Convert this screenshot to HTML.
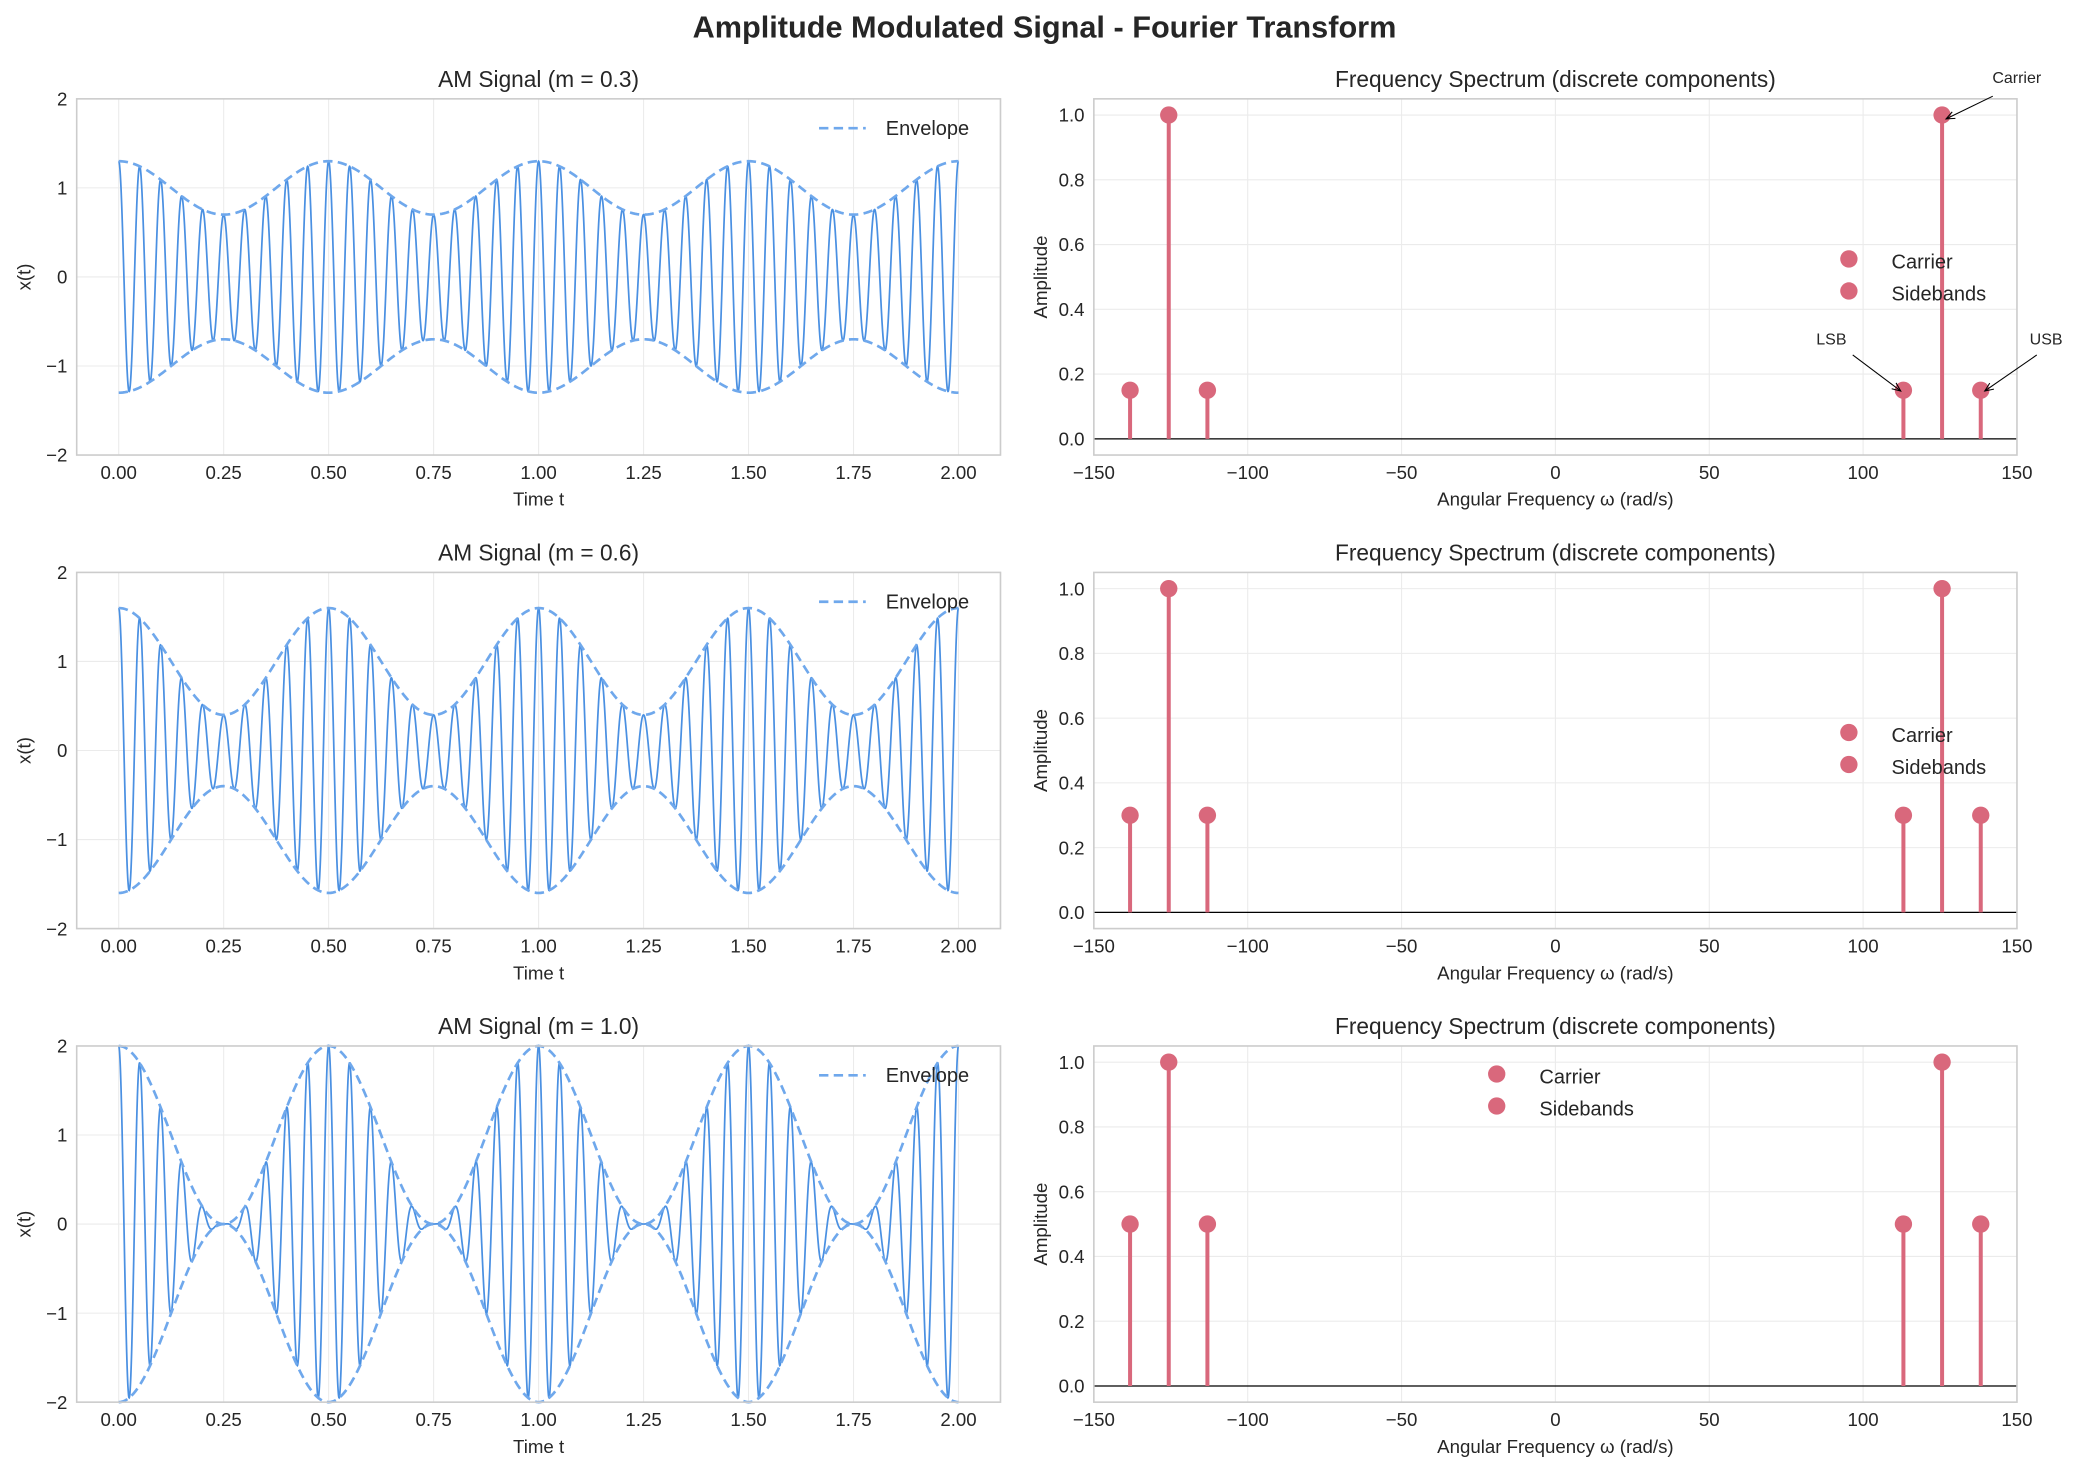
<!DOCTYPE html>
<html><head><meta charset="utf-8"><style>
html,body{margin:0;padding:0;background:#fff}
svg{display:block}
text{font-family:"Liberation Sans","DejaVu Sans",sans-serif;fill:#262626}
</style></head><body>
<svg id="s" width="2081" height="1473" viewBox="0 0 1560 1104" xmlns="http://www.w3.org/2000/svg">
<rect width="1560" height="1104" fill="#fff"/>
<text x="783" y="28" font-size="23" font-weight="bold" text-anchor="middle">Amplitude Modulated Signal - Fourier Transform</text>
</svg>
<script>
const S=document.getElementById('s');const NS='http://www.w3.org/2000/svg';
function el(t,a,txt){const e=document.createElementNS(NS,t);for(const k in a)e.setAttribute(k,a[k]);if(txt!==undefined)e.textContent=txt;S.appendChild(e);return e;}
const rows=[[74,341],[429,696],[784,1051]];const ms=[0.3,0.6,1.0];
const L0=57.5,L1=750,R0=820,R1=1512;
rows.forEach(([T,B],i)=>{
 const m=ms[i];
 const tx=t=>L0+(t+0.1)/2.2*(L1-L0);const ty=v=>T+(2-v)/4*(B-T);
 for(let k=0;k<=8;k++){const x=tx(k*0.25);el('line',{x1:x,x2:x,y1:T,y2:B,stroke:'#ebebeb','stroke-width':0.8});
  el('text',{x:x,y:B+18,'font-size':14,'text-anchor':'middle'},(k*0.25).toFixed(2));}
 for(let v=-2;v<=2;v++){const y=ty(v);el('line',{x1:L0,x2:L1,y1:y,y2:y,stroke:'#ebebeb','stroke-width':0.8});
  el('text',{x:L0-7,y:y+5,'font-size':14,'text-anchor':'end'},v<0?'\u2212'+(-v):''+v);}
 let d='';const N=4000;
 for(let j=0;j<=N;j++){const t=2*j/N;let v=(1+m*Math.cos(2*Math.PI*2*t))*Math.cos(2*Math.PI*20*t);d+=(j?'L':'M')+tx(t).toFixed(2)+' '+ty(v).toFixed(2);}
 el('path',{d:d,fill:'none',stroke:'#4a90e2','stroke-width':1.3});
 let e1='',e2='';
 for(let j=0;j<=400;j++){const t=2*j/400;const v=1+m*Math.cos(2*Math.PI*2*t);e1+=(j?'L':'M')+tx(t).toFixed(2)+' '+ty(v).toFixed(2);e2+=(j?'L':'M')+tx(t).toFixed(2)+' '+ty(-v).toFixed(2);}
 [e1,e2].forEach(p=>el('path',{d:p,fill:'none',stroke:'#6fa8ec','stroke-width':2,'stroke-dasharray':'7,4'}));
 el('rect',{x:L0,y:T,width:L1-L0,height:B-T,fill:'none',stroke:'#cccccc','stroke-width':1.2});
 el('text',{x:(L0+L1)/2,y:T-9,'font-size':17,'text-anchor':'middle'},'AM Signal (m = '+m.toFixed(1)+')');
 el('text',{x:(L0+L1)/2,y:B+38,'font-size':14,'text-anchor':'middle'},'Time t');
 el('text',{x:23,y:(T+B)/2,'font-size':14,'text-anchor':'middle',transform:'rotate(-90 23 '+(T+B)/2+')'},'x(t)');
 el('line',{x1:614,x2:649,y1:T+22,y2:T+22,stroke:'#6fa8ec','stroke-width':2,'stroke-dasharray':'7,4'});
 el('text',{x:664,y:T+27,'font-size':15},'Envelope');
 const fx=w=>R0+(w+150)/300*(R1-R0);const fy=v=>T+(1.05-v)/1.1*(B-T);
 for(let w=-150;w<=150;w+=50){const x=fx(w);el('line',{x1:x,x2:x,y1:T,y2:B,stroke:'#ebebeb','stroke-width':0.8});
  el('text',{x:x,y:B+18,'font-size':14,'text-anchor':'middle'},w<0?'\u2212'+(-w):''+w);}
 for(let k=0;k<=5;k++){const v=k*0.2;const y=fy(v);el('line',{x1:R0,x2:R1,y1:y,y2:y,stroke:'#ebebeb','stroke-width':0.8});
  el('text',{x:R0-7,y:y+5,'font-size':14,'text-anchor':'end'},v.toFixed(1));}
 el('line',{x1:R0,x2:R1,y1:fy(0),y2:fy(0),stroke:'#000','stroke-width':0.9});
 const wc=2*Math.PI*20,wm=2*Math.PI*2,sb=m/2;
 [[-wc-wm,sb],[-wc,1],[-wc+wm,sb],[wc-wm,sb],[wc,1],[wc+wm,sb]].forEach(([w,a])=>{
  el('line',{x1:fx(w),x2:fx(w),y1:fy(0),y2:fy(a),stroke:'#d9687c','stroke-width':3});
  el('circle',{cx:fx(w),cy:fy(a),r:6.5,fill:'#d9687c'});});
 el('rect',{x:R0,y:T,width:R1-R0,height:B-T,fill:'none',stroke:'#cccccc','stroke-width':1.2});
 el('text',{x:(R0+R1)/2,y:T-9,'font-size':17,'text-anchor':'middle'},'Frequency Spectrum (discrete components)');
 el('text',{x:(R0+R1)/2,y:B+38,'font-size':14,'text-anchor':'middle'},'Angular Frequency \u03c9 (rad/s)');
 el('text',{x:785,y:(T+B)/2,'font-size':14,'text-anchor':'middle',transform:'rotate(-90 785 '+(T+B)/2+')'},'Amplitude');
 const lx=i==2?1122:1386,ly=i==2?T+21:T+120;
 el('circle',{cx:lx,cy:ly,r:6.5,fill:'#d9687c'});el('circle',{cx:lx,cy:ly+24,r:6.5,fill:'#d9687c'});
 el('text',{x:lx+32,y:ly+7,'font-size':15},'Carrier');el('text',{x:lx+32,y:ly+31,'font-size':15},'Sidebands');
 if(i==0){
  const arr=(x1,y1,x2,y2)=>{el('line',{x1,y1,x2,y2,stroke:'#000','stroke-width':0.8});const a=Math.atan2(y2-y1,x2-x1),h=7;
   el('path',{d:`M${x2-h*Math.cos(a-0.4)} ${y2-h*Math.sin(a-0.4)}L${x2} ${y2}L${x2-h*Math.cos(a+0.4)} ${y2-h*Math.sin(a+0.4)}`,fill:'none',stroke:'#000','stroke-width':0.8});};
  const cx=fx(wc),lsb=fx(wc-wm),usb=fx(wc+wm);
  el('text',{x:cx+56,y:62,'font-size':12,'text-anchor':'middle'},'Carrier');arr(cx+38,72,cx+3,89);
  el('text',{x:lsb-54,y:258,'font-size':12,'text-anchor':'middle'},'LSB');arr(lsb-38,266,lsb-2,293);
  el('text',{x:usb+49,y:258,'font-size':12,'text-anchor':'middle'},'USB');arr(usb+42,266,usb+3,293);
 }
});
</script>
</body></html>
